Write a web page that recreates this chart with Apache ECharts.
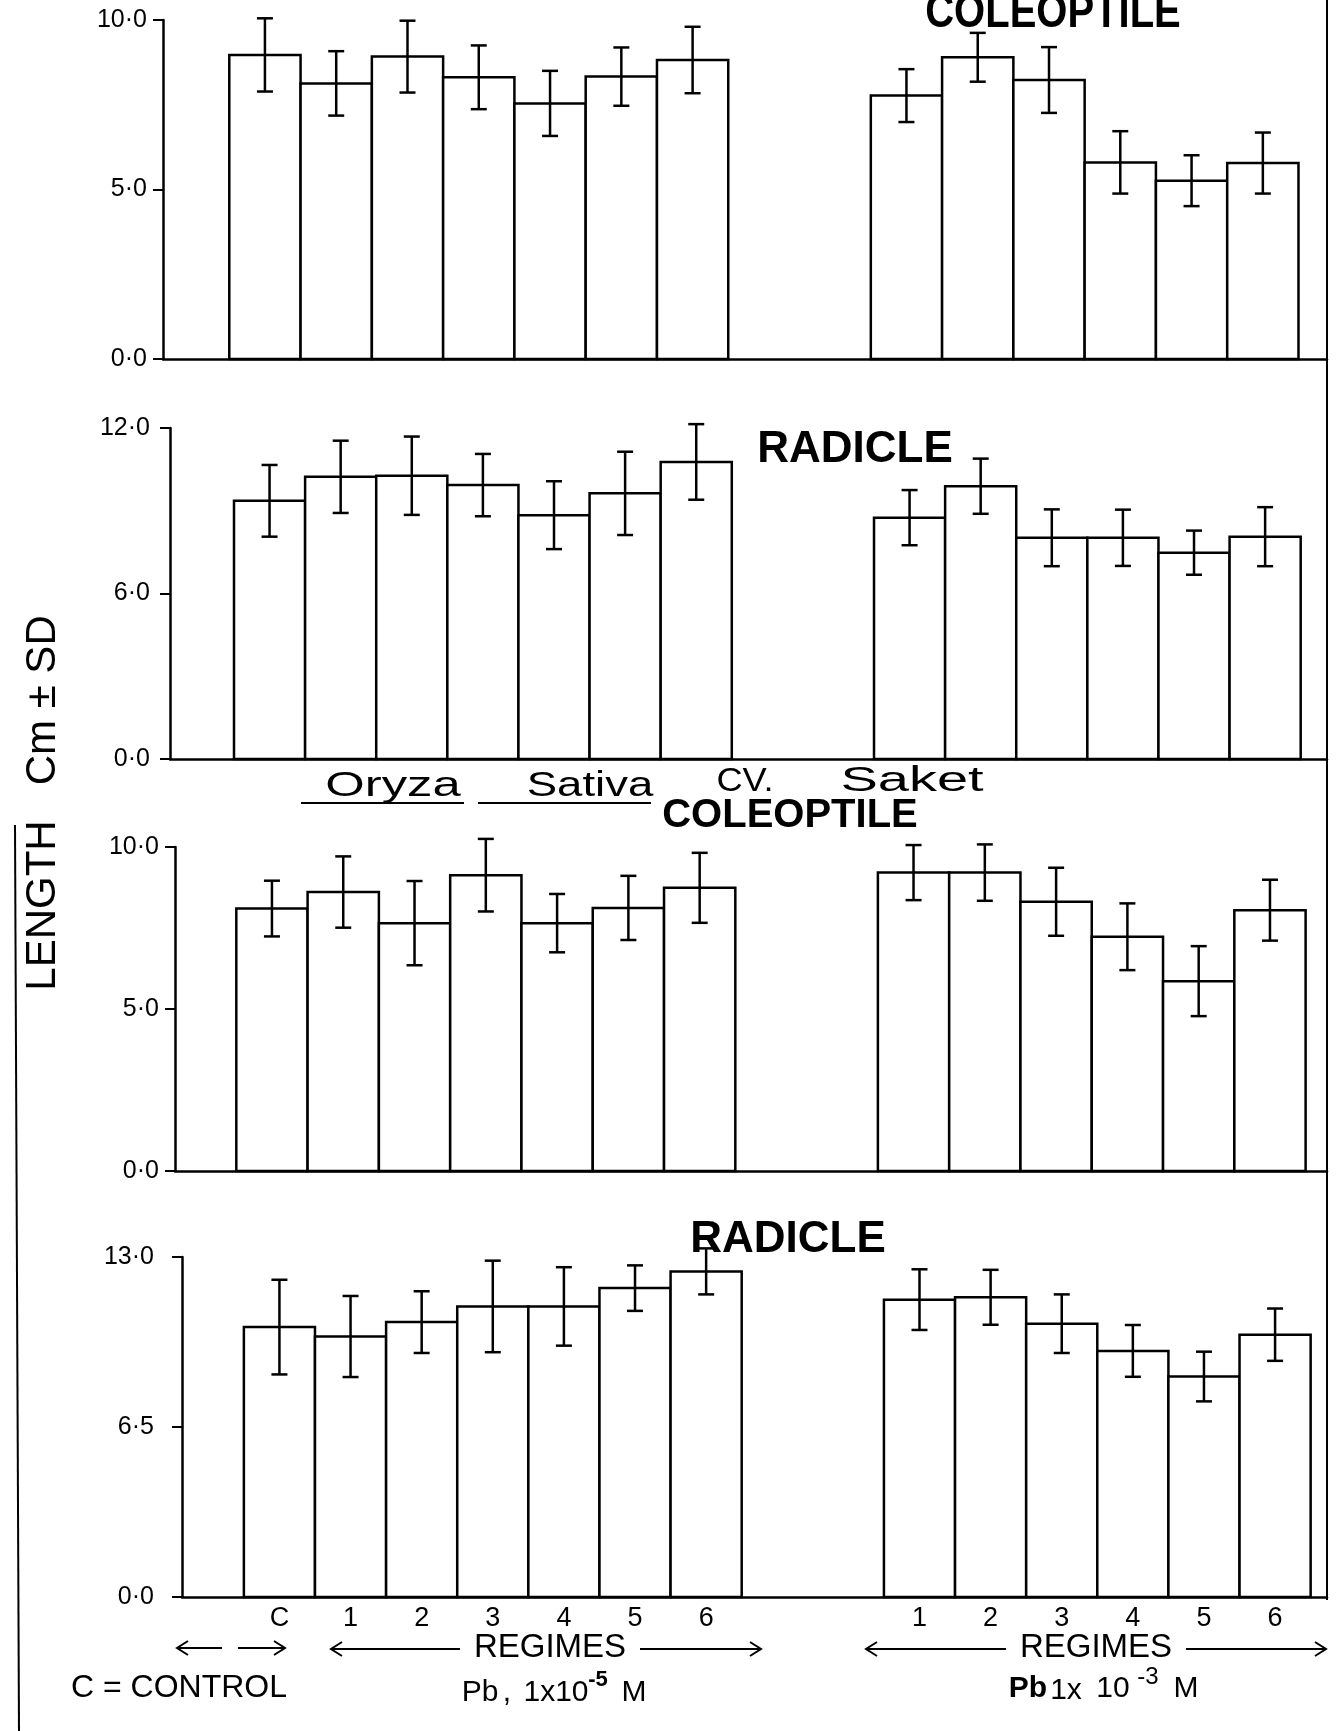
<!DOCTYPE html>
<html><head><meta charset="utf-8">
<style>html,body{margin:0;padding:0;background:#fff}#c{width:1343px;height:1731px}</style>
<script src="https://cdn.jsdelivr.net/npm/echarts@6/dist/echarts.min.js"></script>
</head><body><div id="c"></div>
<script>
// ---------- DATA ----------
const leftRegimes = ['C', '1', '2', '3', '4', '5', '6'];   // control + Pb 1x10^-5 M
const rightRegimes = ['1', '2', '3', '4', '5', '6'];       // Pb 1x10^-3 M
const panelTitles = ['COLEOPTILE', 'RADICLE', 'COLEOPTILE', 'RADICLE'];
const yMaxes = [10.0, 12.0, 10.0, 13.0];
const yTickSteps = [5.0, 6.0, 5.0, 6.5];

// panel 1 : coleoptile (top)
const col1LowMean  = [8.97, 8.13, 8.92, 8.31, 7.54, 8.33, 8.82];
const col1LowSD    = [1.08, 0.95, 1.06, 0.94, 0.96, 0.86, 0.98];
const col1HighMean = [7.77, 8.90, 8.23, 5.80, 5.26, 5.78];
const col1HighSD   = [0.78, 0.72, 0.97, 0.92, 0.75, 0.90];
// panel 2 : radicle
const rad1LowMean  = [9.36, 10.23, 10.27, 9.93, 8.84, 9.63, 10.77];
const rad1LowSD    = [1.30, 1.31, 1.42, 1.13, 1.23, 1.51, 1.37];
const rad1HighMean = [8.75, 9.89, 8.02, 8.02, 7.48, 8.06];
const rad1HighSD   = [1.00, 1.00, 1.03, 1.02, 0.80, 1.07];
// panel 3 : coleoptile (Oryza sativa cv. Saket)
const col2LowMean  = [8.10, 8.61, 7.65, 9.13, 7.65, 8.12, 8.74];
const col2LowSD    = [0.86, 1.10, 1.30, 1.12, 0.90, 0.99, 1.08];
const col2HighMean = [9.21, 9.21, 8.31, 7.23, 5.86, 8.05];
const col2HighSD   = [0.85, 0.87, 1.05, 1.03, 1.08, 0.94];
// panel 4 : radicle
const rad2LowMean  = [10.32, 9.96, 10.51, 11.11, 11.11, 11.81, 12.45];
const rad2LowSD    = [1.81, 1.55, 1.18, 1.75, 1.50, 0.87, 0.88];
const rad2HighMean = [11.37, 11.46, 10.45, 9.41, 8.43, 10.03];
const rad2HighSD   = [1.16, 1.05, 1.12, 0.99, 0.95, 1.00];

// ---------- LAYOUT ----------
const FONT = 'Liberation Sans';
const LEFT_START = 1, RIGHT_START = 10;
const panels = [
  {low: col1LowMean, lowSD: col1LowSD, high: col1HighMean, highSD: col1HighSD},
  {low: rad1LowMean, lowSD: rad1LowSD, high: rad1HighMean, highSD: rad1HighSD},
  {low: col2LowMean, lowSD: col2LowSD, high: col2HighMean, highSD: col2HighSD},
  {low: rad2LowMean, lowSD: rad2LowSD, high: rad2HighMean, highSD: rad2HighSD}
];
const layout = [
  {left: 163, top: 20,   height: 339, xMin: 0.07, xMax: 16.40, labelMargin: 16},
  {left: 170, top: 428,  height: 331, xMin: 0.10, xMax: 16.37, labelMargin: 20},
  {left: 175, top: 847,  height: 324, xMin: 0.14, xMax: 16.30, labelMargin: 16},
  {left: 182, top: 1257, height: 340, xMin: 0.13, xMax: 16.23, labelMargin: 28}
];

function renderBar(params, api) {
  const x = api.value(0), v = api.value(1);
  const a = api.coord([x, v]), b = api.coord([x + 1, 0]);
  return {type: 'rect', shape: {x: a[0], y: a[1], width: b[0] - a[0], height: b[1] - a[1]},
    style: {fill: '#fff', stroke: '#000', lineWidth: 2.5}};
}
function renderErr(params, api) {
  const x = api.value(0) + 0.5, m = api.value(1), sd = api.value(2);
  const hi = api.coord([x, m + sd]), lo = api.coord([x, m - sd]);
  const cw = 8, st = {stroke: '#000', lineWidth: 2.5};
  return {type: 'group', children: [
    {type: 'line', shape: {x1: hi[0], y1: hi[1], x2: lo[0], y2: lo[1]}, style: st},
    {type: 'line', shape: {x1: hi[0] - cw, y1: hi[1], x2: hi[0] + cw, y2: hi[1]}, style: st},
    {type: 'line', shape: {x1: lo[0] - cw, y1: lo[1], x2: lo[0] + cw, y2: lo[1]}, style: st}
  ]};
}

const grids = [], xAxes = [], yAxes = [], series = [];
const labelMap = {};
leftRegimes.forEach((c, i) => labelMap[(LEFT_START + i + 0.5).toFixed(1)] = c);
rightRegimes.forEach((c, i) => labelMap[(RIGHT_START + i + 0.5).toFixed(1)] = c);

layout.forEach((L, k) => {
  const P = panels[k];
  const isBottom = k === 3;
  grids.push({left: L.left, top: L.top, height: L.height, right: 16});
  xAxes.push({
    type: 'value', gridIndex: k, min: L.xMin, max: L.xMax,
    splitLine: {show: false}, axisTick: {show: false},
    axisLine: {show: true, onZero: false, lineStyle: {color: '#000', width: 2.5}},
    axisLabel: isBottom ? {
      show: true, customValues: Object.keys(labelMap).map(Number),
      formatter: v => labelMap[Number(v).toFixed(1)] || '',
      color: '#000', fontSize: 27, fontFamily: FONT, margin: 8
    } : {show: false}
  });
  yAxes.push({
    type: 'value', gridIndex: k, min: 0, max: yMaxes[k], interval: yTickSteps[k],
    splitLine: {show: false},
    axisLine: {show: true, onZero: false, lineStyle: {color: '#000', width: 2.5}},
    axisTick: {show: true, length: 10, lineStyle: {color: '#000', width: 2}},
    axisLabel: {color: '#000', fontSize: 25, fontFamily: FONT, margin: L.labelMargin,
      formatter: v => Number(v).toFixed(1).replace('.', '·')}
  });
  const barData = P.low.map((v, i) => [LEFT_START + i, v])
    .concat(P.high.map((v, i) => [RIGHT_START + i, v]));
  const errData = P.low.map((v, i) => [LEFT_START + i, v, P.lowSD[i]])
    .concat(P.high.map((v, i) => [RIGHT_START + i, v, P.highSD[i]]));
  series.push({type: 'custom', xAxisIndex: k, yAxisIndex: k, data: barData, renderItem: renderBar,
    encode: {x: 0, y: 1}, z: 2, silent: true});
  series.push({type: 'custom', xAxisIndex: k, yAxisIndex: k, data: errData, renderItem: renderErr,
    encode: {x: 0, y: 1}, z: 3, silent: true, clip: false});
});

// ---------- DECORATION (text, arrows, frame) ----------
function txt(text, x, y, size, opts) {
  opts = opts || {};
  return {type: 'text', x: x, y: y, rotation: opts.rotation || 0,
    scaleX: opts.scaleX || 1, scaleY: opts.scaleY || 1, z: 10,
    style: {text: text, fill: '#000', fontSize: size, fontFamily: FONT,
      fontWeight: opts.bold ? 'bold' : 'normal',
      align: opts.align || 'center', textAlign: opts.align || 'center',
      verticalAlign: 'middle', textVerticalAlign: 'middle'}};
}
function seg(x1, y1, x2, y2, w) {
  return {type: 'line', z: 10, shape: {x1: x1, y1: y1, x2: x2, y2: y2},
    style: {stroke: '#000', lineWidth: w || 2}};
}
function head(x, y, dir) {
  return {type: 'polyline', z: 10, shape: {points: [[x + dir * 11, y - 7], [x, y], [x + dir * 11, y + 7]]},
    style: {stroke: '#000', lineWidth: 2, fill: null}};
}

const graphics = [
  txt(panelTitles[0], 1053, 14, 40, {bold: true, scaleY: 1.2}),
  txt(panelTitles[1], 855, 450, 44, {bold: true}),
  txt(panelTitles[2], 790, 816, 40, {bold: true}),
  txt(panelTitles[3], 788, 1240, 44, {bold: true}),
  // species line
  txt('Oryza', 393, 786, 35, {scaleX: 1.45}),
  txt('Sativa', 590, 786, 35, {scaleX: 1.3}),
  txt('CV.', 745, 782, 33, {scaleX: 1.1}),
  txt('Saket', 912, 781, 35, {scaleX: 1.6}),
  seg(301, 803, 464, 803, 2), seg(478, 803, 651, 803, 2),
  // y axis title
  txt('LENGTH   Cm ± SD', 43, 803, 42, {rotation: Math.PI / 2}),
  // frame lines
  seg(1327, 0, 1327, 1600, 2), seg(15, 825, 19, 1731, 2),
  // control arrow
  seg(177, 1648, 222, 1648), seg(238, 1648, 285, 1648), head(177, 1648, 1), head(285, 1648, -1),
  txt('C = CONTROL', 179, 1688, 32),
  // low Pb regimes arrow
  seg(331, 1649, 460, 1649), seg(640, 1649, 761, 1649), head(331, 1649, 1), head(761, 1649, -1),
  txt('REGIMES', 550, 1648, 33),
  txt('Pb', 480, 1693, 30), txt(',', 507, 1693, 30), txt('1x10', 556, 1693, 30),
  txt('-5', 598, 1680, 22, {bold: true}), txt('M', 634, 1693, 30),
  // high Pb regimes arrow
  seg(866, 1649, 1006, 1649), seg(1186, 1649, 1326, 1649), head(866, 1649, 1), head(1326, 1649, -1),
  txt('REGIMES', 1096, 1648, 33),
  txt('Pb', 1028, 1689, 30, {bold: true}), txt('1x', 1066, 1691, 30), txt('10', 1113, 1689, 30),
  txt('-3', 1148, 1677, 24), txt('M', 1186, 1689, 30)
];

const chart = echarts.init(document.getElementById('c'));
chart.setOption({
  animation: false,
  backgroundColor: '#fff',
  grid: grids, xAxis: xAxes, yAxis: yAxes, series: series,
  graphic: {elements: graphics}
});
</script></body></html>
